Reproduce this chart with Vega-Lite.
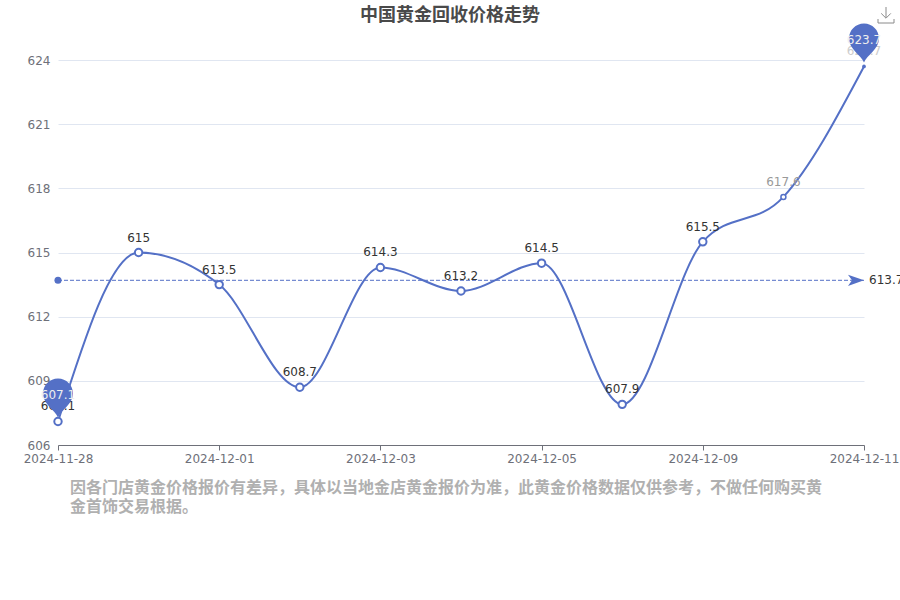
{
  "$schema": "https://vega.github.io/schema/vega-lite/v6.json",
  "autosize": {"type": "none"},
  "padding": {"left": 58, "top": 60, "right": 36, "bottom": 155},
  "width": 806,
  "height": 385,
  "background": "white",
  "config": {"view": {"stroke": null}},
  "title": {
    "text": "中国黄金回收价格走势",
    "font": "Noto Sans CJK SC",
    "fontSize": 18,
    "fontWeight": "bold",
    "color": "#4A4A4A",
    "anchor": "middle",
    "dx": -11,
    "dy": 20,
    "offset": 0
  },
  "datasets": {
    "prices": [
      {"date": "2024-11-28", "price": 607.1},
      {"date": "2024-11-29", "price": 615},
      {"date": "2024-12-01", "price": 613.5},
      {"date": "2024-12-02", "price": 608.7},
      {"date": "2024-12-03", "price": 614.3},
      {"date": "2024-12-04", "price": 613.2},
      {"date": "2024-12-05", "price": 614.5},
      {"date": "2024-12-06", "price": 607.9},
      {"date": "2024-12-09", "price": 615.5},
      {"date": "2024-12-10", "price": 617.6},
      {"date": "2024-12-11", "price": 623.7}
    ],
    "average": [
      {"date": "2024-11-28", "price": 613.7},
      {"date": "2024-12-11", "price": 613.7}
    ]
  },
  "data": {"name": "prices"},
  "encoding": {
    "x": {
      "field": "date",
      "type": "ordinal",
      "scale": {"type": "point", "padding": 0},
      "axis": {
        "values": ["2024-11-28", "2024-12-01", "2024-12-03", "2024-12-05", "2024-12-09", "2024-12-11"],
        "labelAngle": 0,
        "labelColor": "#6E7079",
        "labelFont": "DejaVu Sans",
        "labelFontSize": 12,
        "labelPadding": 3,
        "labelOverlap": false,
        "labelBound": false,
        "domainColor": "#6E7079",
        "tickColor": "#6E7079",
        "tickSize": 5,
        "grid": false,
        "title": [
          "因各门店黄金价格报价有差异，具体以当地金店黄金报价为准，此黄金价格数据仅供参考，不做任何购买黄",
          "金首饰交易根据。"
        ],
        "titleFont": "Noto Sans CJK SC",
        "titleFontSize": 16,
        "titleFontWeight": "bold",
        "titleColor": "#B0B0B0",
        "titleLineHeight": 19,
        "titleAlign": "left",
        "titleBaseline": "top",
        "titleX": 11.5,
        "titleY": 34
      }
    },
    "y": {
      "field": "price",
      "type": "quantitative",
      "scale": {"domain": [606, 624], "zero": false},
      "axis": {
        "values": [606, 609, 612, 615, 618, 621, 624],
        "title": null,
        "domain": false,
        "ticks": false,
        "labelColor": "#6E7079",
        "labelFont": "DejaVu Sans",
        "labelFontSize": 12,
        "labelPadding": 8,
        "gridColor": "#E0E6F1"
      }
    }
  },
  "layer": [
    {
      "mark": {"type": "line", "interpolate": "monotone", "color": "#5470C6", "strokeWidth": 2}
    },
    {
      "data": {"name": "average"},
      "mark": {"type": "line", "color": "#5470C6", "strokeWidth": 1, "strokeDash": [4, 2]}
    },
    {
      "data": {"name": "average"},
      "transform": [{"filter": "datum.date == '2024-11-28'"}],
      "mark": {"type": "point", "shape": "circle", "filled": true, "color": "#5470C6", "opacity": 1, "size": 50}
    },
    {
      "data": {"name": "average"},
      "transform": [{"filter": "datum.date == '2024-12-11'"}],
      "mark": {"type": "point", "shape": "M1,0 L-1,0.7 L-0.5,0 L-1,-0.7 Z", "filled": true, "color": "#5470C6", "opacity": 1, "size": 256, "xOffset": -8}
    },
    {
      "data": {"name": "average"},
      "transform": [{"filter": "datum.date == '2024-12-11'"}],
      "mark": {"type": "text", "align": "left", "dx": 5, "font": "DejaVu Sans", "fontSize": 12, "color": "#333333"},
      "encoding": {"text": {"field": "price", "type": "quantitative"}}
    },
    {
      "mark": {"type": "text", "dy": -15, "font": "DejaVu Sans", "fontSize": 12},
      "encoding": {
        "text": {"field": "price", "type": "quantitative"},
        "color": {
          "condition": [
            {"test": "datum.price == 617.6", "value": "#999999"},
            {"test": "datum.price == 623.7", "value": "#CCCCCC"}
          ],
          "value": "#333333"
        }
      }
    },
    {
      "transform": [{"filter": "datum.price != 617.6 && datum.price != 623.7"}],
      "mark": {"type": "point", "shape": "circle", "fill": "white", "stroke": "#5470C6", "strokeWidth": 2, "opacity": 1, "size": 55}
    },
    {
      "transform": [{"filter": "datum.price == 617.6"}],
      "mark": {"type": "point", "shape": "circle", "fill": "white", "stroke": "#5470C6", "strokeWidth": 1.5, "opacity": 1, "size": 25}
    },
    {
      "transform": [{"filter": "datum.price == 623.7"}],
      "mark": {"type": "point", "shape": "circle", "filled": true, "color": "#5470C6", "opacity": 1, "size": 14}
    },
    {
      "transform": [{"filter": "datum.price == 607.1 || datum.price == 623.7"}],
      "mark": {
        "type": "point",
        "shape": "M0,0 C-0.2,-0.5 -1,-0.9 -1,-1.6 A1,1 0 1 1 1,-1.6 C1,-0.9 0.2,-0.5 0,0 Z",
        "filled": true,
        "color": "#5470C6",
        "opacity": 1,
        "size": 900,
        "yOffset": -4
      }
    },
    {
      "transform": [{"filter": "datum.price == 607.1 || datum.price == 623.7"}],
      "mark": {"type": "text", "dy": -26, "font": "DejaVu Sans", "fontSize": 12, "color": "#EEEEEE"},
      "encoding": {"text": {"field": "price", "type": "quantitative"}}
    },
    {
      "data": {"values": [{"date": "2024-12-11", "price": 624}]},
      "mark": {
        "type": "point",
        "shape": "M0,-1 L0,0.3 M-0.6,-0.2 L0,0.4 L0.6,-0.2 M-1,0.5 L-1,1 L1,1 L1,0.5",
        "filled": false,
        "stroke": "#8A8A8A",
        "strokeWidth": 1,
        "opacity": 1,
        "size": 256,
        "xOffset": 22,
        "yOffset": -45
      }
    }
  ]
}
